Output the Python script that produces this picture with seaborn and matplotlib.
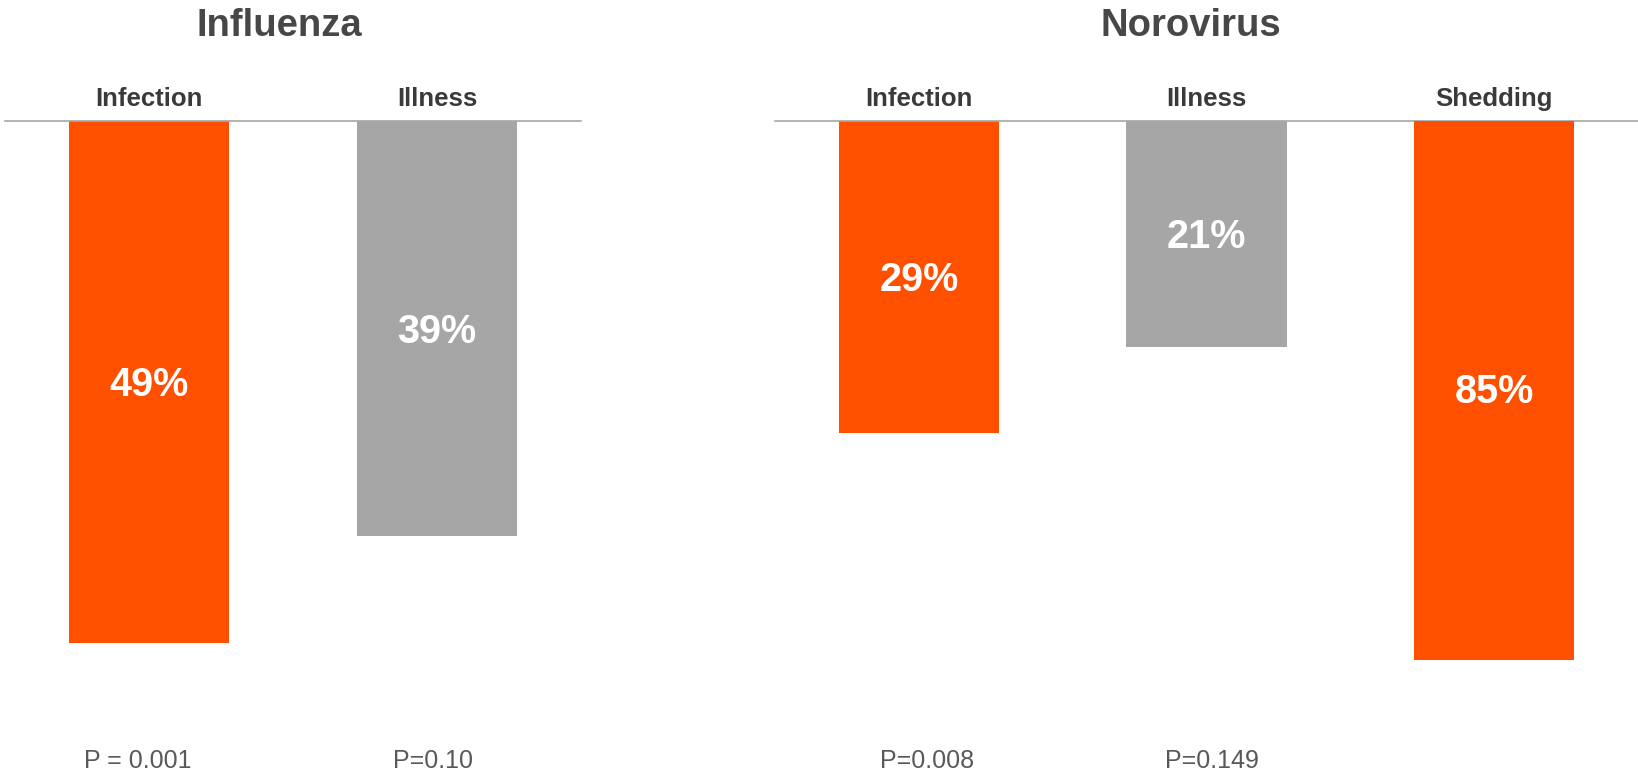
import matplotlib
matplotlib.use("Agg")
import matplotlib.pyplot as plt
import matplotlib.transforms as mtransforms
import pandas as pd
import seaborn as sns

# Relative reductions by outcome
flu_measures = ["Infection", "Illness"]
flu_values = [49, 39]
flu_pvalues = ["P = 0.001", "P=0.10"]

noro_measures = ["Infection", "Illness", "Shedding"]
noro_values = [29, 21, 85]
noro_pvalues = ["P=0.008", "P=0.149"]

bar_colors = {"Infection": "#FF5000", "Illness": "#A6A6A6", "Shedding": "#FF5000"}

sns.set_theme(style="white")
plt.rcParams["font.family"] = ["Liberation Sans", "DejaVu Sans"]

W, H = 1638, 780
fig = plt.figure(figsize=(W / 100, H / 100), dpi=100)
fig.patch.set_facecolor("white")

TOP_PX = 121
AX_H_PX = 645
LINE_COLOR = "#A6A6A6"
TITLE_COLOR = "#474747"
SUB_COLOR = "#3A3A3A"
P_COLOR = "#595959"


def make_axes(x0_px, x1_px):
    bottom = (H - TOP_PX - AX_H_PX) / H
    return fig.add_axes([x0_px / W, bottom, (x1_px - x0_px) / W, AX_H_PX / H])


def style_axes(ax, n, ymax):
    ax.set_xlim(-0.5, n - 0.5)
    ax.set_ylim(ymax, 0)
    ax.set_xticks([])
    ax.set_yticks([])
    ax.set_xlabel("")
    ax.set_ylabel("")
    for side in ["left", "right", "bottom"]:
        ax.spines[side].set_visible(False)
    ax.spines["top"].set_visible(True)
    ax.spines["top"].set_color(LINE_COLOR)
    ax.spines["top"].set_linewidth(1.2)
    ax.patch.set_alpha(0)


def draw_bars(ax, measures, values, order):
    df = pd.DataFrame({"measure": measures, "value": values})
    sns.barplot(data=df, x="measure", y="value", hue="measure", order=order,
                hue_order=order, palette=bar_colors, saturation=1, width=0.557,
                linewidth=0, legend=False, errorbar=None, ax=ax)
    for m, v in zip(measures, values):
        ax.text(order.index(m), v / 2 + 0.3, f"{v}%", ha="center", va="center",
                color="white", fontsize=28.5, fontweight="bold")


def panel_labels(ax, order, title, title_x_px, pvalues, p_offsets):
    tr = mtransforms.blended_transform_factory(ax.transData, fig.transFigure)
    for i, m in enumerate(order):
        ax.text(i, 1 - 99 / H, m, transform=tr, ha="center", va="center",
                fontsize=18.5, fontweight="bold", color=SUB_COLOR)
    for i, (p, dx) in enumerate(zip(pvalues, p_offsets)):
        ax.text(i + dx, 1 - 761 / H, p, transform=tr, ha="center", va="center",
                fontsize=18, color=P_COLOR)
    fig.text(title_x_px / W, 1 - 26 / H, title, ha="center", va="center",
             fontsize=27.5, fontweight="bold", color=TITLE_COLOR)


# Influenza panel
ax_flu = make_axes(5, 581)
draw_bars(ax_flu, flu_measures, flu_values, flu_measures)
style_axes(ax_flu, len(flu_measures), AX_H_PX / 10.65)
panel_labels(ax_flu, flu_measures, "Influenza", 279, flu_pvalues, [-0.04, -0.015])

# Norovirus panel: infection and illness share one scale, shedding has its own
ax_noro = make_axes(775, 1638)
draw_bars(ax_noro, noro_measures[:2], noro_values[:2], noro_measures)
style_axes(ax_noro, len(noro_measures), AX_H_PX / 10.77)

ax_shed = ax_noro.twinx()
draw_bars(ax_shed, noro_measures[2:], noro_values[2:], noro_measures)
style_axes(ax_shed, len(noro_measures), AX_H_PX / 6.34)
ax_shed.spines["top"].set_visible(False)

panel_labels(ax_noro, noro_measures, "Norovirus", 1191, noro_pvalues, [0.03, 0.02])

fig.savefig("out.png", dpi=100, facecolor="white")
